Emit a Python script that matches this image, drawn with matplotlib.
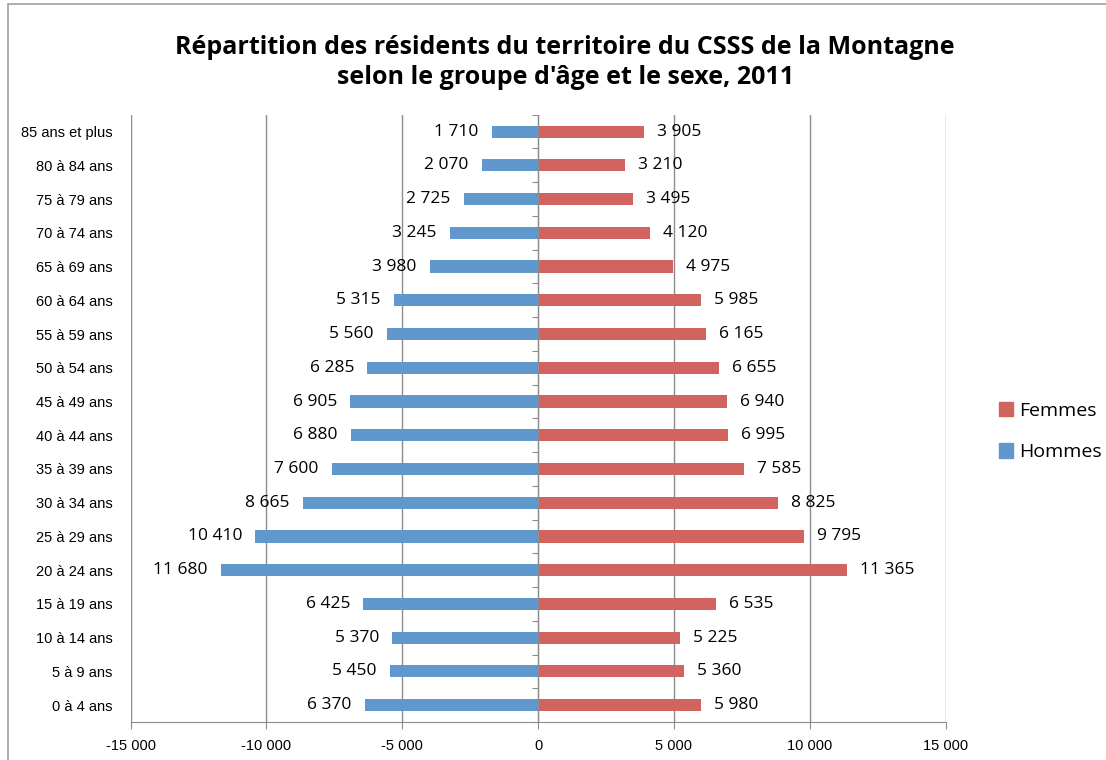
import matplotlib
matplotlib.use("Agg")
import matplotlib.pyplot as plt
from matplotlib.ticker import FuncFormatter, FixedLocator
from matplotlib.patches import Rectangle, Patch

groups = ["0 à 4 ans", "5 à 9 ans", "10 à 14 ans", "15 à 19 ans", "20 à 24 ans",
          "25 à 29 ans", "30 à 34 ans", "35 à 39 ans", "40 à 44 ans", "45 à 49 ans",
          "50 à 54 ans", "55 à 59 ans", "60 à 64 ans", "65 à 69 ans", "70 à 74 ans",
          "75 à 79 ans", "80 à 84 ans", "85 ans et plus"]
hommes = [6370, 5450, 5370, 6425, 11680, 10410, 8665, 7600, 6880, 6905,
          6285, 5560, 5315, 3980, 3245, 2725, 2070, 1710]
femmes = [5980, 5360, 5225, 6535, 11365, 9795, 8825, 7585, 6995, 6940,
          6655, 6165, 5985, 4975, 4120, 3495, 3210, 3905]
xticks = [-15000, -10000, -5000, 0, 5000, 10000, 15000]

BLUE = "#6097cd"
RED = "#d2645f"
GRID = "#8c8c8c"
FONT = ["Open Sans", "DejaVu Sans"]
NARROW = ["Liberation Sans Narrow", "Liberation Sans", "DejaVu Sans"]
RECT = [0.118, 0.050, 0.737, 0.799]
XLIM = (-15000, 15000)
YLIM = (-0.5, len(groups) - 0.5)


def fmt(v, pos=None):
    s = f"{abs(int(v)):,}".replace(",", " ")
    return ("-" if v < 0 else "") + s


fig = plt.figure(figsize=(11.06, 7.6), dpi=100)
ax = fig.add_axes(RECT)

y = list(range(len(groups)))
ax.barh(y, [-h for h in hommes], height=0.36, color=BLUE, zorder=3)
ax.barh(y, femmes, height=0.36, color=RED, zorder=3)

for yi, h, f in zip(y, hommes, femmes):
    ax.annotate(fmt(h), (-h, yi), xytext=(-9.5, 0), textcoords="offset points",
                ha="right", va="center", fontsize=12.5, family=FONT)
    ax.annotate(fmt(f), (f, yi), xytext=(9.5, 0), textcoords="offset points",
                ha="left", va="center", fontsize=12.5, family=FONT)

ax.set_xlim(*XLIM)
ax.set_ylim(*YLIM)
ax.set_xticks(xticks)
ax.xaxis.set_major_formatter(FuncFormatter(fmt))
ax.set_yticks(y)
ax.set_yticklabels(groups, family=NARROW, fontsize=10.5)
ax.tick_params(axis="y", length=0, pad=13)
ax.tick_params(axis="x", length=5, color=GRID, labelsize=10.5, pad=7)
for lab in ax.get_xticklabels():
    lab.set_family(NARROW)
ax.grid(axis="x", color=GRID, linewidth=1, zorder=0)
for side in ["top", "right", "left"]:
    ax.spines[side].set_visible(False)
ax.spines["bottom"].set_color(GRID)

# overlay axes: vertical axis at 0 with separator ticks between categories
ax2 = fig.add_axes(RECT)
ax2.set_xlim(*XLIM)
ax2.set_ylim(*YLIM)
ax2.patch.set_visible(False)
for side in ["top", "right", "bottom"]:
    ax2.spines[side].set_visible(False)
ax2.spines["left"].set_position(("data", 0))
ax2.spines["left"].set_color(GRID)
ax2.yaxis.set_major_locator(FixedLocator([i - 0.5 for i in range(len(groups) + 1)]))
ax2.tick_params(axis="y", length=4, color=GRID, direction="out", labelleft=False)
ax2.tick_params(axis="x", bottom=False, labelbottom=False)

fig.text(0.511, 0.918, "Répartition des résidents du territoire du CSSS de la Montagne\n"
         "selon le groupe d'âge et le sexe, 2011", ha="center", va="center",
         fontsize=18, fontweight="bold", family=FONT, linespacing=1.25)

handles = [Patch(color=RED, label="Femmes"), Patch(color=BLUE, label="Hommes")]
fig.legend(handles=handles, loc="center left", bbox_to_anchor=(0.887, 0.432),
           frameon=False, handlelength=0.75, handleheight=0.75,
           handletextpad=0.3, labelspacing=1.2, prop={"family": FONT, "size": 14})

fig.patches.append(Rectangle((0.007, -0.1), 1.2, 1.095, transform=fig.transFigure,
                             fill=False, edgecolor="#a0a0a0", linewidth=1.2))

fig.savefig("out.png", dpi=100)
